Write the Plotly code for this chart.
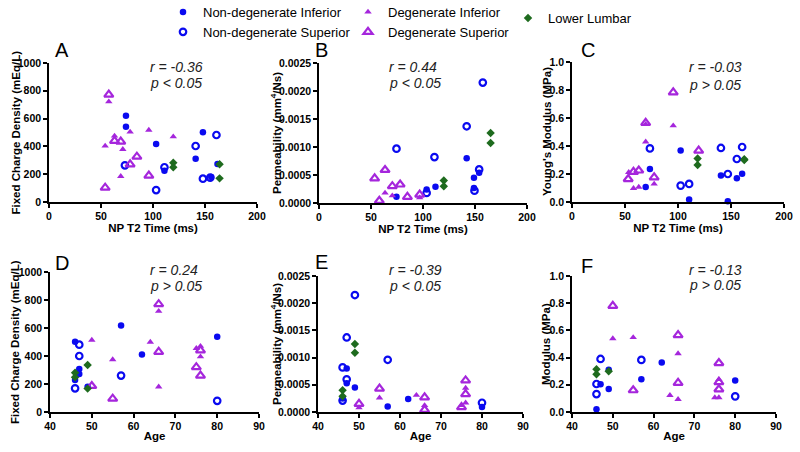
import plotly.graph_objects as go

# ---------------- data ----------------
# Panel A: NP T2 time (ms) vs fixed charge density (mEq/L)
A_ndi_x = [74, 74, 103, 148, 141, 162, 111, 156]
A_ndi_y = [621, 542, 417, 501, 312, 273, 225, 180]
A_nds_x = [161, 141, 111, 148, 103, 73, 155]
A_nds_y = [482, 403, 250, 168, 86, 264, 175]
A_di_x = [57.5, 78, 96, 119.5, 63, 54, 71, 69]
A_di_y = [722, 504, 518, 470, 475, 403, 379, 185]
A_ds_x = [57.5, 63, 69, 84.5, 78, 96, 54]
A_ds_y = [773, 440, 434, 326, 271, 190, 103]
A_ll_x = [119.5, 119.5, 164, 164]
A_ll_y = [283, 250, 271, 170]

# Panel B: NP T2 time vs permeability
B_ndi_x = [142, 154, 149, 112, 103.5, 149, 74.5]
B_ndi_y = [0.0008, 0.00054, 0.00045, 0.00029, 0.00024, 0.00027, 0.00011]
B_nds_x = [157.5, 142, 74.5, 111, 154, 149.5, 103.5]
B_nds_y = [0.00215, 0.00137, 0.00097, 0.00082, 0.0006, 0.00022, 0.00018]
B_di_x = [63.5, 70.5, 96.8]
B_di_y = [0.00018, 0.00013, 0.000095]
B_ds_x = [53.5, 63.5, 58, 70.5, 78, 85, 96.8]
B_ds_y = [0.00044, 0.00059, 0.00004, 0.0003, 0.00033, 0.00011, 0.00015]
B_ll_x = [165, 165, 120, 120]
B_ll_y = [0.00125, 0.00107, 0.0004, 0.0003]

# Panel C: NP T2 time vs Young's modulus (MPa)
C_ndi_x = [73.5, 69.5, 102.5, 110.5, 140.5, 147, 155.5, 160.5]
C_ndi_y = [0.236, 0.107, 0.367, 0.017, 0.19, 0.005, 0.169, 0.202]
C_nds_x = [73.5, 102.5, 110.5, 140.5, 147, 155.5, 160.5]
C_nds_y = [0.383, 0.117, 0.129, 0.386, 0.2, 0.307, 0.393]
C_di_x = [95.5, 69.5, 69.5, 53.5, 58, 63, 77.5]
C_di_y = [0.545, 0.43, 0.555, 0.212, 0.098, 0.107, 0.129]
C_ds_x = [95.5, 69.5, 119.5, 53, 58, 63, 77.5]
C_ds_y = [0.783, 0.565, 0.367, 0.164, 0.215, 0.225, 0.176]
C_ll_x = [118.5, 118.5, 162.5, 162.5]
C_ll_y = [0.31, 0.264, 0.305, 0.3]

# Panel D: age vs fixed charge density
D_ndi_x = [46, 47, 47, 46, 49, 57, 62, 80]
D_ndi_y = [502, 307, 271, 229, 180, 617, 410, 538]
D_nds_x = [47, 47, 46, 57, 80]
D_nds_y = [481, 400, 169, 260, 80]
D_di_x = [50, 55, 64, 66, 66, 75, 76, 76]
D_di_y = [514, 375, 500, 720, 180, 455, 470, 395]
D_ds_x = [50, 55, 66, 66, 75, 76, 76]
D_ds_y = [186, 95, 770, 430, 320, 440, 260]
D_ll_x = [46, 46, 49, 49]
D_ll_y = [281, 248, 336, 167]

# Panel E: age vs permeability
E_ndi_x = [47, 47, 49, 46, 57, 62, 80]
E_ndi_y = [0.0008, 0.00053, 0.00045, 0.00025, 0.0001, 0.00024, 0.00009]
E_nds_x = [49, 47, 46, 57, 47, 46, 80]
E_nds_y = [0.00215, 0.00137, 0.00082, 0.00096, 0.0006, 0.00021, 0.00017]
E_di_x = [50, 55, 64, 66, 75, 76, 76]
E_di_y = [0.00008, 0.00026, 0.00031, 0.00012, 0.00012, 0.00044, 0.00017]
E_ds_x = [50, 55, 66, 66, 75, 76, 76]
E_ds_y = [0.00015, 0.00043, 0.00027, 0.00004, 0.00009, 0.00058, 0.00033]
E_ll_x = [46, 46, 49, 49]
E_ll_y = [0.0004, 0.00029, 0.00125, 0.00109]

# Panel F: age vs modulus
F_ndi_x = [46, 47, 49, 49, 57, 62, 80]
F_ndi_y = [0.02, 0.204, 0.169, 0.31, 0.24, 0.364, 0.231]
F_nds_x = [47, 46, 46, 57, 80]
F_nds_y = [0.39, 0.206, 0.132, 0.383, 0.115]
F_di_x = [50, 55, 64, 66, 66, 75, 76, 76]
F_di_y = [0.54, 0.548, 0.123, 0.43, 0.093, 0.106, 0.106, 0.24]
F_ds_x = [50, 55, 66, 66, 76, 76, 76]
F_ds_y = [0.78, 0.16, 0.565, 0.214, 0.36, 0.22, 0.167]
F_ll_x = [46, 46, 49]
F_ll_y = [0.314, 0.277, 0.30]

panel_letters = ["A", "B", "C", "D", "E", "F"]
r_texts = ["r = -0.36", "r = 0.44", "r = -0.03", "r = 0.24", "r = -0.39", "r = -0.13"]
p_texts = ["p < 0.05", "p < 0.05", "p > 0.05", "p > 0.05", "p < 0.05", "p > 0.05"]
x_titles = ["NP T2 Time (ms)"] * 3 + ["Age"] * 3
y_titles = ["Fixed Charge Density (mEq/L)", "Permeability (mm<sup>4</sup>/Ns)",
            "Young's Modulus (MPa)", "Fixed Charge Density (mEq/L)",
            "Permeability (mm<sup>4</sup>/Ns)", "Modulus (MPa)"]
series_names = ["Non-degenerate Inferior", "Non-degenerate Superior",
                "Degenerate Inferior", "Degenerate Superior", "Lower Lumbar"]

panels = [
    [(A_ndi_x, A_ndi_y), (A_nds_x, A_nds_y), (A_di_x, A_di_y), (A_ds_x, A_ds_y), (A_ll_x, A_ll_y)],
    [(B_ndi_x, B_ndi_y), (B_nds_x, B_nds_y), (B_di_x, B_di_y), (B_ds_x, B_ds_y), (B_ll_x, B_ll_y)],
    [(C_ndi_x, C_ndi_y), (C_nds_x, C_nds_y), (C_di_x, C_di_y), (C_ds_x, C_ds_y), (C_ll_x, C_ll_y)],
    [(D_ndi_x, D_ndi_y), (D_nds_x, D_nds_y), (D_di_x, D_di_y), (D_ds_x, D_ds_y), (D_ll_x, D_ll_y)],
    [(E_ndi_x, E_ndi_y), (E_nds_x, E_nds_y), (E_di_x, E_di_y), (E_ds_x, E_ds_y), (E_ll_x, E_ll_y)],
    [(F_ndi_x, F_ndi_y), (F_nds_x, F_nds_y), (F_di_x, F_di_y), (F_ds_x, F_ds_y), (F_ll_x, F_ll_y)],
]

# ---------------- styles ----------------
W, H = 800, 452
BLUE = "#0A0AF0"
PURPLE = "#A526DC"
GREEN = "#1E6B1E"
FONT = "Arial, Liberation Sans, sans-serif"

marker_styles = [
    dict(symbol="circle", size=6.5, color=BLUE, line=dict(width=0)),
    dict(symbol="circle-open", size=6.5, color=BLUE, line=dict(width=2.2)),
    dict(symbol="triangle-up", size=6.5, color=PURPLE, line=dict(width=0)),
    dict(symbol="triangle-up-open", size=8, color=PURPLE, line=dict(width=2.2)),
    dict(symbol="diamond", size=6.5, color=GREEN, line=dict(width=0)),
]
legend_ids = ["legend", "legend", "legend2", "legend2", "legend3"]

# pixel boxes for each panel: (x0, x1, ytop, ybottom)
boxes = [
    (49, 257, 63, 202), (319, 527, 63, 203), (572, 784, 62, 202),
    (50, 259, 272, 412), (318, 523, 276, 412), (572, 776, 276, 412),
]
x_ranges = [[0, 200]] * 3 + [[40, 90]] * 3
x_dticks = [50] * 3 + [10] * 3
y_ranges = [[0, 1000], [0, 0.0025], [0, 1.0]] * 2
y_dticks = [200, 0.0005, 0.2] * 2
y_formats = ["d", ".4f", ".1f"] * 2

letter_pos = [(53, 50), (313, 50), (579, 50), (53, 263), (313, 262), (579, 266)]
stat_pos = [(148, 67, 83), (387, 67, 83), (687, 67, 85),
            (148, 270, 286), (387, 270, 286), (687, 270, 285)]
ytitle_x = [15, 276, 547, 15, 276, 546]

fig = go.Figure()
annotations = []
layout = dict(width=W, height=H, margin=dict(l=0, r=0, t=0, b=0, autoexpand=False),
              paper_bgcolor="white", plot_bgcolor="white", hovermode=False,
              font=dict(family=FONT, color="black"))

for i in range(6):
    sfx = "" if i == 0 else str(i + 1)
    for j in range(5):
        xs, ys = panels[i][j]
        fig.add_trace(go.Scatter(
            x=xs, y=ys, mode="markers", name=series_names[j],
            marker=marker_styles[j], xaxis="x" + sfx, yaxis="y" + sfx,
            cliponaxis=False, showlegend=(i == 0), legend=legend_ids[j]))
    x0, x1, yt, yb = boxes[i]
    axis_common = dict(showline=True, linecolor="black", linewidth=1.5,
                       ticks="outside", ticklen=4, tickwidth=1.5, tickcolor="black",
                       showgrid=False, zeroline=False, automargin=False,
                       tickfont=dict(family=FONT, size=10.5, color="black", weight="bold"))
    layout["xaxis" + sfx] = dict(
        axis_common, domain=[x0 / W, x1 / W], anchor="y" + sfx,
        range=x_ranges[i], dtick=x_dticks[i], tick0=0,
        title=dict(text=x_titles[i], standoff=1,
                   font=dict(family=FONT, size=11.5, color="black", weight="bold")))
    layout["yaxis" + sfx] = dict(
        axis_common, domain=[1 - yb / H, 1 - yt / H], anchor="x" + sfx,
        range=y_ranges[i], dtick=y_dticks[i], tick0=0, tickformat=y_formats[i])
    annotations.append(dict(text=y_titles[i], textangle=-90, x=ytitle_x[i] / W,
                            y=1 - (yt + yb) / 2 / H, xref="paper", yref="paper",
                            xanchor="center", yanchor="middle", showarrow=False,
                            font=dict(family=FONT, size=11.5, color="black", weight="bold")))
    lx, ly = letter_pos[i]
    annotations.append(dict(text=panel_letters[i], x=lx / W, y=1 - ly / H, xref="paper",
                            yref="paper", xanchor="left", yanchor="middle", showarrow=False,
                            font=dict(family=FONT, size=20, color="black")))
    sx, ry, py = stat_pos[i]
    annotations.append(dict(text="<i>" + r_texts[i] + "</i>", x=sx / W, y=1 - ry / H,
                            xref="paper", yref="paper", xanchor="left", yanchor="middle",
                            showarrow=False, font=dict(family=FONT, size=14, color="#222")))
    annotations.append(dict(text="<i>" + p_texts[i] + "</i>", x=sx / W, y=1 - py / H,
                            xref="paper", yref="paper", xanchor="left", yanchor="middle",
                            showarrow=False, font=dict(family=FONT, size=14, color="#222")))

legend_common = dict(xanchor="left", yanchor="top", bgcolor="rgba(0,0,0,0)",
                     font=dict(family=FONT, size=13, color="black"), tracegroupgap=0,
                     orientation="v")
layout["legend"] = dict(legend_common, x=163 / W, y=1 + 3 / H)
layout["legend2"] = dict(legend_common, x=348 / W, y=1 + 3 / H)
layout["legend3"] = dict(legend_common, x=508 / W, y=1 - 3 / H)
layout["annotations"] = annotations
fig.update_layout(**layout)
fig.write_html("out.html", config={"displayModeBar": False},
               post_script="document.body.style.margin='0';document.body.style.padding='0';")
